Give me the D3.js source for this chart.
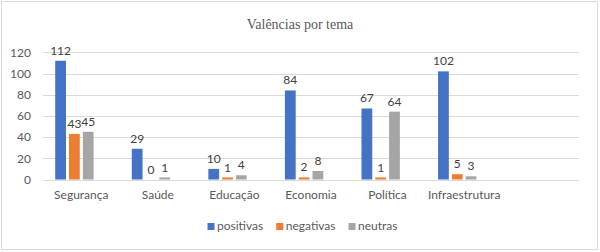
<!DOCTYPE html>
<html><head><meta charset="utf-8">
<script src="https://cdn.jsdelivr.net/npm/d3@7"></script>
<style>body{margin:0;background:#fff;} svg{display:block;}</style>
</head><body>
<svg id="c" width="600" height="252"></svg>
<script>
const categories = ["Segurança","Saúde","Educação","Economia","Política","Infraestrutura",""];
const seriesNames = ["positivas","negativas","neutras"];
const positivas = [112,29,10,84,67,102];
const negativas = [43,0,1,2,1,5];
const neutras = [45,1,4,8,64,3];
const yTicks = [0,20,40,60,80,100,120];
const title = "Valências por tema";
const colors = ["#4472C4","#ED7D31","#A5A5A5"];
const seriesValues = [positivas, negativas, neutras];
// slot list includes an empty fourth slot (as in the original spreadsheet)
const slots = ["positivas","negativas","neutras","_"];

const svg = d3.select("#c");
const font = "Lato, 'Open Sans', sans-serif";
svg.append("rect").attr("x",1.5).attr("y",1.5).attr("width",596).attr("height",248)
  .attr("fill","#fff").attr("stroke","#D9D9D9").attr("stroke-width",1);

svg.append("text").attr("x",300).attr("y",29).attr("text-anchor","middle")
  .attr("font-family","'Liberation Serif','Times New Roman',serif").attr("font-size",14)
  .attr("fill","#595959").text(title);

const x0 = d3.scaleBand().domain(categories).range([43,579]).paddingInner(0).paddingOuter(0);
const x1 = d3.scaleBand().domain(slots).range([0,x0.bandwidth()]).paddingInner(0.22).paddingOuter(0.885);
const y = d3.scaleLinear().domain([0,120]).range([179.5,52.3]);

const grid = svg.append("g");
grid.selectAll("line").data(yTicks).join("line")
  .attr("x1",43).attr("x2",579).attr("y1",d=>Math.round(y(d))+0.5).attr("y2",d=>Math.round(y(d))+0.5)
  .attr("stroke","#D9D9D9").attr("stroke-width",1);

const yAxis = d3.axisLeft(y).tickValues(yTicks).tickSize(0).tickPadding(0);
const ga = svg.append("g").attr("transform","translate(31,0)").call(yAxis);
ga.select(".domain").remove();
ga.selectAll("text").attr("font-family",font).attr("font-size",12).attr("fill","#595959");

const xAxis = d3.axisBottom(x0).tickSize(0).tickPadding(0);
const gx = svg.append("g").attr("transform","translate(0,190)").call(xAxis);
gx.select(".domain").remove();
gx.selectAll("text").attr("font-family",font).attr("font-size",12).attr("fill","#595959");

const rows = [];
seriesNames.forEach((s,si)=>{
  seriesValues[si].forEach((v,ci)=>rows.push({s,si,cat:categories[ci],v}));
});
const bars = svg.append("g");
bars.selectAll("rect").data(rows).join("rect")
  .attr("x",d=>x0(d.cat)+x1(d.s))
  .attr("width",x1.bandwidth())
  .attr("y",d=>y(d.v)-(d.v<=1?1:0))
  .attr("height",d=>y(0)-y(d.v)+(d.v<=1?1:0))
  .attr("fill",d=>colors[d.si])
  .attr("opacity",d=>d.v===0?0:1);

svg.append("g").selectAll("text").data(rows).join("text")
  .attr("x",d=>x0(d.cat)+x1(d.s)+x1.bandwidth()/2)
  .attr("y",d=>y(d.v)-6)
  .attr("text-anchor","middle")
  .attr("font-family",font).attr("font-size",12).attr("fill","#404040")
  .text(d=>d.v);

// legend
const lg = svg.append("g");
let cx = 0;
const items = seriesNames.map((n,i)=>{
  const g = lg.append("g");
  g.append("rect").attr("x",0).attr("y",-7).attr("width",7).attr("height",7).attr("fill",colors[i]);
  const t = g.append("text").attr("x",9.5).attr("y",0).attr("font-family",font).attr("font-size",12).attr("fill","#595959").text(n);
  const w = 9.5 + t.node().getComputedTextLength();
  g.attr("transform",`translate(${cx},0)`);
  cx += w + 13;
  return w;
});
const totalW = cx - 13;
lg.attr("transform",`translate(${302.5-totalW/2},230)`);
</script>
</body></html>
